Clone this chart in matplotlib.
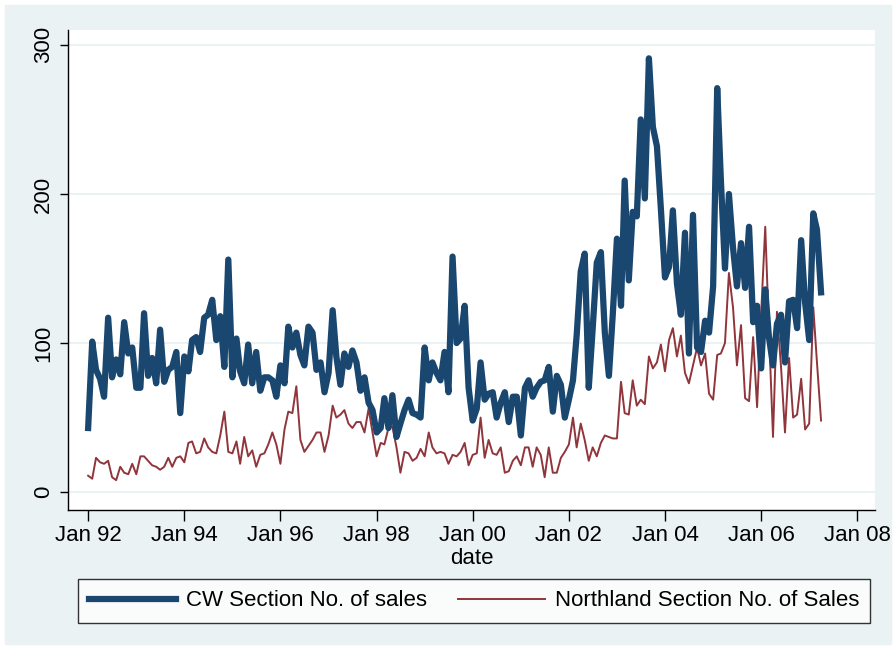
import numpy as np
import pandas as pd
import matplotlib
matplotlib.use('Agg')
import matplotlib.pyplot as plt
import matplotlib.dates as mdates
from matplotlib.patches import Rectangle

# monthly sales, Jan 1992 onwards (one row per year)
cw_sales = [
    43, 101, 82, 76, 64, 117, 77, 89, 79, 114, 93, 97,
    70, 70, 120, 78, 90, 73, 109, 74, 82, 84, 94, 53,
    91, 81, 102, 104, 94, 117, 119, 129, 102, 118, 84, 156,
    77, 103, 81, 73, 99, 73, 94, 68, 77, 77, 75, 64,
    85, 73, 111, 97, 107, 92, 85, 111, 107, 82, 87, 67,
    80, 122, 91, 72, 93, 84, 95, 87, 68, 77, 60, 55,
    40, 43, 63, 43, 65, 37, 46, 55, 62, 53, 52, 50,
    97, 75, 87, 80, 75, 94, 67, 158, 100, 103, 125, 70,
    48, 56, 87, 62, 66, 67, 50, 60, 67, 47, 64, 64,
    38, 70, 75, 64, 70, 74, 75, 84, 54, 78, 72, 50,
    62, 75, 105, 148, 160, 70, 110, 154, 161, 107, 78, 120,
    170, 125, 209, 142, 188, 185, 250, 197, 291, 245, 232, 190,
    144, 151, 189, 140, 119, 174, 93, 186, 97, 94, 115, 107,
    138, 271, 209, 150, 200, 164, 138, 167, 137, 178, 114, 125,
    83, 136, 104, 85, 113, 119, 87, 128, 129, 110, 169, 127,
    102, 187, 176, 134,
]
northland_sales = [
    11, 9, 23, 20, 19, 21, 10, 8, 17, 13, 12, 19,
    12, 24, 24, 21, 18, 17, 15, 17, 23, 17, 23, 24,
    20, 33, 34, 26, 27, 36, 30, 27, 26, 38, 54, 27,
    26, 34, 19, 37, 24, 28, 17, 25, 26, 32, 40, 32,
    19, 42, 54, 53, 71, 35, 27, 31, 35, 40, 40, 27,
    38, 58, 50, 52, 55, 46, 43, 47, 47, 40, 56, 40,
    24, 33, 32, 43, 44, 30, 13, 27, 26, 21, 23, 29,
    24, 40, 30, 26, 27, 26, 19, 25, 24, 27, 33, 18,
    25, 26, 50, 23, 35, 26, 25, 30, 13, 14, 21, 24,
    18, 30, 30, 17, 30, 25, 10, 30, 13, 13, 23, 27,
    32, 50, 30, 46, 35, 21, 30, 24, 33, 38, 37, 36,
    36, 74, 53, 52, 75, 58, 62, 59, 91, 83, 87, 99,
    81, 102, 110, 91, 105, 80, 73, 85, 97, 85, 93, 66,
    62, 92, 93, 100, 147, 124, 85, 112, 63, 61, 104, 57,
    120, 178, 109, 37, 121, 84, 40, 90, 50, 52, 76, 42,
    46, 124, 87, 48,
]
series_labels = ['CW Section No. of sales', 'Northland Section No. of Sales']
tick_years = list(range(1992, 2009, 2))
y_ticks = [0, 100, 200, 300]

dates = pd.date_range('1992-01-01', periods=len(cw_sales), freq='MS')

plt.rcParams['font.family'] = ['Liberation Sans', 'DejaVu Sans']
FS = 16

BG = '#EAF2F3'
fig = plt.figure(figsize=(8.94, 6.47), dpi=100, facecolor='white')
fig.patches.append(Rectangle((5 / 894, 3 / 647), 886 / 894, 639 / 647,
                             transform=fig.transFigure, color=BG, zorder=-10))

ax = fig.add_axes([68 / 894, 1 - 510 / 647, 807 / 894, 480 / 647])
ax.set_facecolor('white')

ax.plot(dates, cw_sales, color='#1A476F', lw=4.5, solid_joinstyle='round',
        label=series_labels[0], zorder=3)
ax.plot(dates, northland_sales, color='#90353B', lw=1.4,
        label=series_labels[1], zorder=2)

for v in y_ticks:
    ax.axhline(v, color=BG, lw=1.5, zorder=1)

ax.set_ylim(-12, 310)
ax.set_xlim(pd.Timestamp('1991-08-01'), pd.Timestamp('2008-05-15'))
ax.set_yticks(y_ticks)
ax.set_yticklabels([str(v) for v in y_ticks], rotation=90, va='center', fontsize=FS)
ax.set_xticks([pd.Timestamp(f'{y}-01-01') for y in tick_years])
ax.xaxis.set_major_formatter(mdates.DateFormatter('Jan %y'))
ax.tick_params(axis='x', labelsize=FS, length=8, width=1, pad=3)
ax.tick_params(axis='y', length=6, width=1, pad=4)
ax.set_xlabel('date', fontsize=FS, labelpad=1)

for s in ['top', 'right']:
    ax.spines[s].set_visible(False)
for s in ['left', 'bottom']:
    ax.spines[s].set_linewidth(1)

leg = ax.legend(loc='center', bbox_to_anchor=(474 / 894, 1 - 601 / 647),
                bbox_transform=fig.transFigure, ncol=2, fontsize=FS,
                frameon=True, fancybox=False, edgecolor='black',
                handlelength=3.9, handletextpad=0.45, columnspacing=1.4,
                borderpad=0.5)
leg.get_frame().set_linewidth(1)

fig.savefig('out.png', dpi=100, facecolor=fig.get_facecolor())
